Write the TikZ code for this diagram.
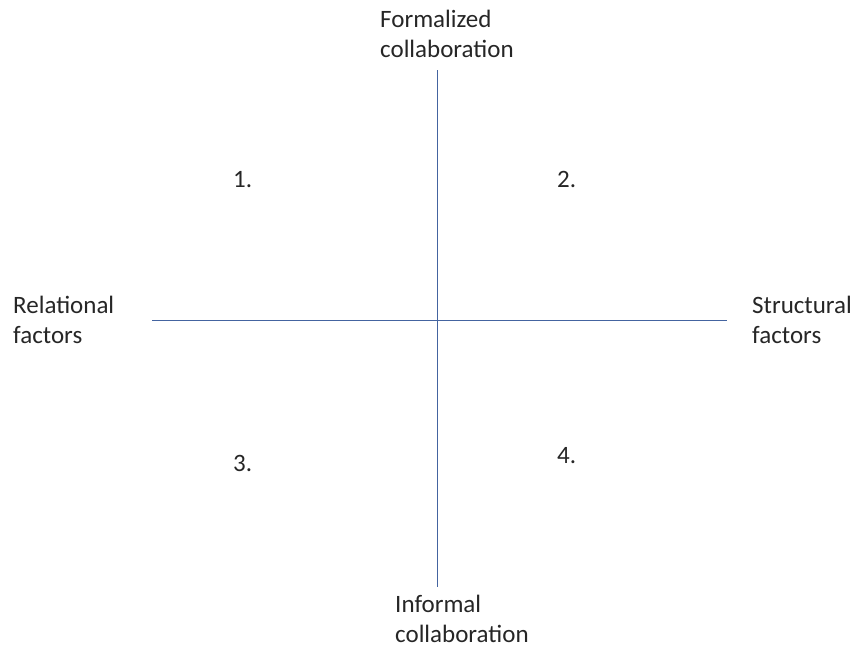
\documentclass[tikz,border=0pt]{standalone}
\usepackage{fontspec}
\setmainfont{Carlito}
\definecolor{axisblue}{RGB}{68,100,160}

\begin{document}
\begin{tikzpicture}[x=1pt,y=-1pt,
  lbl/.style={anchor=base west,inner sep=0,align=left,font=\fontsize{25}{30}\selectfont,text=black!85},
  axis/.style={draw=axisblue,line width=1pt}]
\useasboundingbox(0,0) rectangle (856,649);
%axes
\coordinate(top) at (437,70);\coordinate(bot) at (437,587);
\coordinate(lft) at (152,320);\coordinate(rgt) at (727,320);
\draw[axis](top)--(bot);
\draw[axis](lft)--(rgt);
%axis labels (base = last line)
\node[lbl](formal) at (380,57){Formalized\\collaboration};
\node[lbl](informal) at (395,642){Informal\\collaboration};
\node[lbl](relat) at (13,343){Relational\\factors};
\node[lbl](struct) at (752,343){Structural\\factors};
%quadrants
\node[lbl](q1) at (233,187){1.};
\node[lbl](q2) at (557,187){2.};
\node[lbl](q3) at (233,471){3.};
\node[lbl](q4) at (557,463){4.};
\end{tikzpicture}
\end{document}
